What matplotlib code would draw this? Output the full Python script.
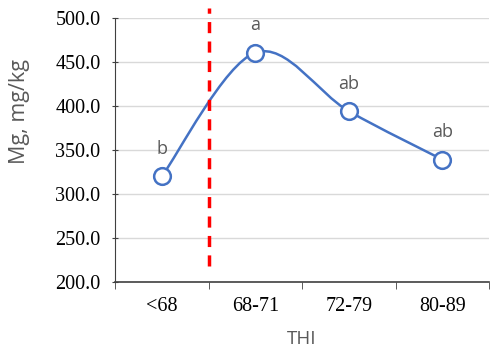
import numpy as np
import matplotlib
matplotlib.use("Agg")
import matplotlib.pyplot as plt
from matplotlib.path import Path
from matplotlib.patches import PathPatch

# --- data ---
categories = ["<68", "68-71", "72-79", "80-89"]
mg_values = [320.0, 460.5, 394.0, 339.0]
sig_letters = ["b", "a", "ab", "ab"]
y_ticks = [200, 250, 300, 350, 400, 450, 500]
threshold_x = 0.5          # between <68 and 68-71
threshold_span = (218, 511)

blue = "#4472C4"
grey = "#595959"

fig = plt.figure(figsize=(4.9, 3.51), dpi=100)
ax = fig.add_axes([0.235, 0.197, 0.763, 0.752])

x = np.arange(len(categories))
y = np.array(mg_values)

# smoothed line (Catmull-Rom -> bezier, like Excel "smoothed line")
pts = np.column_stack([x, y])
verts = [pts[0]]
codes = [Path.MOVETO]
for i in range(len(pts) - 1):
    p0 = pts[i - 1] if i > 0 else pts[i]
    p1 = pts[i]
    p2 = pts[i + 1]
    p3 = pts[i + 2] if i + 2 < len(pts) else pts[i + 1]
    c1 = p1 + (p2 - p0) / 6
    c2 = p2 - (p3 - p1) / 6
    verts += [c1, c2, p2]
    codes += [Path.CURVE4] * 3
ax.add_patch(PathPatch(Path(verts, codes), fill=False, edgecolor=blue, lw=1.8, zorder=3))

ax.plot(x, y, linestyle="none", marker="o", markersize=12, markerfacecolor="white",
        markeredgecolor=blue, markeredgewidth=1.8, zorder=4)

for xi, yi, lab in zip(x, y, sig_letters):
    ax.text(xi, yi + 21, lab, ha="center", va="bottom", fontsize=13, color=grey,
            family="Open Sans")

# threshold line
ax.plot([threshold_x, threshold_x], threshold_span, color="red", lw=2.5,
        linestyle=(0, (3.2, 2.4)), clip_on=False, zorder=5)

ax.set_xlim(-0.5, len(categories) - 0.5)
ax.set_ylim(200, 500)
ax.set_yticks(y_ticks)
ax.set_yticklabels([f"{v:.1f}" for v in y_ticks], family="Liberation Serif", fontsize=14.5)
ax.set_xticks(x)
ax.set_xticklabels(categories, family="Liberation Serif", fontsize=14.5)
ax.set_xticks(np.arange(-0.5, len(categories)), minor=True)
ax.tick_params(axis="x", which="major", length=0, pad=11)
ax.tick_params(axis="x", which="minor", length=5, direction="out", color="#404040")
ax.tick_params(axis="y", length=5, direction="inout", color="#404040", pad=8)

ax.grid(axis="y", color="#d9d9d9", lw=1)
ax.set_axisbelow(True)
for s in ["top", "right"]:
    ax.spines[s].set_visible(False)
ax.spines["left"].set_color("#404040")
ax.spines["bottom"].set_color("#404040")
ax.spines["bottom"].set_linewidth(1.2)

ax.set_ylabel("Mg, mg/kg", family="Open Sans", fontsize=15.5, color=grey, va="center")
ax.yaxis.set_label_coords(-0.255, 0.644)
ax.set_xlabel("THI", family="Open Sans", fontsize=13.5, color=grey, labelpad=10)

fig.savefig("out.png", dpi=100)
